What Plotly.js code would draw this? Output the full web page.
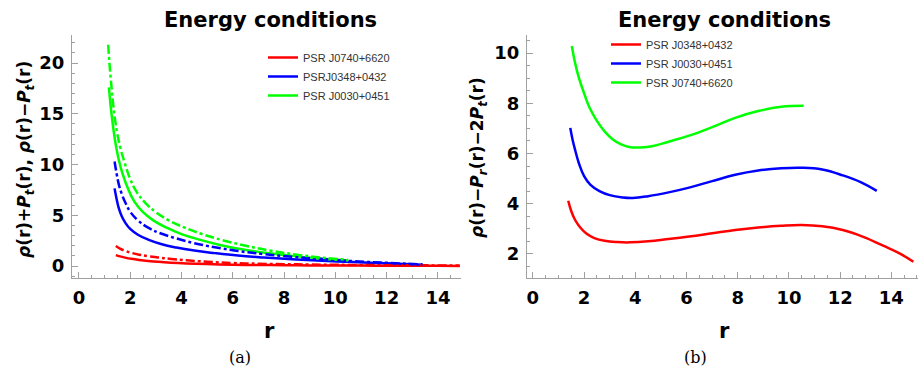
<!DOCTYPE html>
<html>
<head>
<meta charset="utf-8">
<script src="https://cdn.plot.ly/plotly-3.0.1.min.js"></script>
<style>html,body{margin:0;padding:0;background:#fff;}#chart{width:922px;height:371px;}</style>
</head>
<body>
<div id="chart"></div>
<script>
// ---------- Panel (a): rho+Pt (solid) and rho-Pt (dash-dot) ----------
const redSolidR = [1.44, 1.6, 1.8, 2.05, 2.35, 2.7, 3.1, 3.6, 4.2, 5.0, 6.0, 7.0, 8.0, 9.0, 10.0, 11.0, 12.0, 13.0, 14.0, 14.85];
const redSolidV = [1.08, 0.95, 0.83, 0.71, 0.6, 0.5, 0.41, 0.33, 0.26, 0.19, 0.13, 0.1, 0.08, 0.06, 0.05, 0.04, 0.03, 0.02, 0.015, 0.01];
const redDashR  = [1.44, 1.6, 1.8, 2.05, 2.35, 2.7, 3.1, 3.6, 4.2, 5.0, 6.0, 7.0, 8.0, 9.0, 10.0, 11.0, 12.0, 13.0, 14.0, 14.85];
const redDashV  = [1.97, 1.72, 1.5, 1.3, 1.12, 0.97, 0.84, 0.7, 0.56, 0.42, 0.3, 0.23, 0.18, 0.15, 0.12, 0.1, 0.08, 0.07, 0.06, 0.05];

const blueSolidR = [1.39, 1.47, 1.56, 1.67, 1.8, 2.0, 2.3, 2.7, 3.2, 3.8, 4.5, 5.3, 6.2, 7.2, 8.3, 9.5, 10.7, 12.0, 13.4];
const blueSolidV = [7.65, 6.6, 5.65, 4.9, 4.3, 3.65, 3.08, 2.6, 2.17, 1.82, 1.52, 1.27, 1.03, 0.84, 0.67, 0.52, 0.39, 0.27, 0.13];
const blueDashR  = [1.39, 1.47, 1.56, 1.67, 1.8, 2.0, 2.3, 2.7, 3.2, 3.8, 4.5, 5.3, 6.2, 7.2, 8.3, 9.5, 10.7, 12.0, 13.4];
const blueDashV  = [10.3, 9.1, 8.0, 7.1, 6.3, 5.35, 4.5, 3.78, 3.2, 2.72, 2.25, 1.85, 1.48, 1.18, 0.92, 0.68, 0.48, 0.32, 0.16];

const greenSolidR = [1.17, 1.22, 1.28, 1.35, 1.44, 1.55, 1.7, 1.9, 2.15, 2.5, 2.9, 3.4, 4.0, 4.7, 5.5, 6.4, 7.4, 8.5, 9.5, 10.5];
const greenSolidV = [17.6, 16.2, 14.8, 13.4, 11.9, 10.5, 9.1, 7.7, 6.4, 5.3, 4.5, 3.8, 3.15, 2.6, 2.08, 1.62, 1.25, 0.95, 0.72, 0.55];
const greenDashR  = [1.14, 1.19, 1.25, 1.32, 1.4, 1.5, 1.62, 1.78, 1.98, 2.25, 2.6, 3.0, 3.5, 4.1, 4.8, 5.6, 6.5, 7.5, 8.5, 9.5, 10.5];
const greenDashV  = [21.8, 20.0, 18.2, 16.3, 14.6, 13.0, 11.6, 10.2, 8.7, 7.3, 6.2, 5.3, 4.5, 3.8, 3.15, 2.55, 2.0, 1.5, 1.12, 0.82, 0.6];

const legendA = ["PSR J0740+6620", "PSRJ0348+0432", "PSR J0030+0451"];

// ---------- Panel (b): rho - Pr - 2Pt ----------
const redBR = [1.38, 1.5, 1.65, 1.85, 2.1, 2.4, 2.8, 3.3, 3.8, 4.5, 5.3, 6.1, 7.0, 7.9, 8.8, 9.7, 10.5, 11.3, 12.1, 12.9, 13.7, 14.3, 14.86];
const redBV = [4.12, 3.7, 3.35, 3.05, 2.8, 2.63, 2.52, 2.47, 2.46, 2.5, 2.59, 2.69, 2.82, 2.95, 3.05, 3.12, 3.15, 3.1, 2.95, 2.68, 2.32, 2.03, 1.69];
const blueBR = [1.46, 1.55, 1.65, 1.8, 2.0, 2.25, 2.6, 3.0, 3.5, 3.9, 4.5, 5.3, 6.1, 7.0, 7.9, 8.8, 9.7, 10.5, 11.3, 12.1, 12.8, 13.43];
const blueBV = [7.02, 6.55, 6.14, 5.6, 5.1, 4.75, 4.5, 4.34, 4.25, 4.23, 4.3, 4.45, 4.64, 4.9, 5.15, 5.32, 5.41, 5.43, 5.36, 5.13, 4.86, 4.51];
const greenBR = [1.52, 1.65, 1.8, 2.0, 2.2, 2.5, 2.8, 3.1, 3.45, 3.8, 4.2, 4.7, 5.3, 6.1, 7.0, 7.9, 8.8, 9.7, 10.57];
const greenBV = [10.28, 9.6, 9.0, 8.4, 7.85, 7.3, 6.88, 6.58, 6.36, 6.25, 6.24, 6.3, 6.47, 6.71, 7.05, 7.42, 7.69, 7.86, 7.9];

const legendB = ["PSR J0348+0432", "PSR J0030+0451", "PSR J0740+6620"];

const RED = "#ff0000", BLUE = "#0000ff", GREEN = "#00ff00";
const LW = 2.5;

function tr(x, y, color, dash, name, xa, ya, leg, show) {
  return {
    x: x, y: y, type: "scatter", mode: "lines",
    line: {color: color, width: LW, dash: dash, shape: "spline", smoothing: 1.2},
    name: name || "", showlegend: !!show, legend: leg,
    xaxis: xa, yaxis: ya, hoverinfo: "skip"
  };
}

const data = [
  tr(redSolidR, redSolidV, RED, "solid", legendA[0], "x", "y", "legend", true),
  tr(blueSolidR, blueSolidV, BLUE, "solid", legendA[1], "x", "y", "legend", true),
  tr(greenSolidR, greenSolidV, GREEN, "solid", legendA[2], "x", "y", "legend", true),
  tr(redDashR, redDashV, RED, "dashdot", "", "x", "y", "legend", false),
  tr(blueDashR, blueDashV, BLUE, "dashdot", "", "x", "y", "legend", false),
  tr(greenDashR, greenDashV, GREEN, "dashdot", "", "x", "y", "legend", false),
  tr(redBR, redBV, RED, "solid", legendB[0], "x2", "y2", "legend2", true),
  tr(blueBR, blueBV, BLUE, "solid", legendB[1], "x2", "y2", "legend2", true),
  tr(greenBR, greenBV, GREEN, "solid", legendB[2], "x2", "y2", "legend2", true)
];

const W = 922, H = 371;
const tickFont = {family: "DejaVu Sans", size: 18, color: "#000", weight: "bold"};
const axCommon = {
  showgrid: false, zeroline: false, showline: true, linecolor: "#a0a0a0", linewidth: 1,
  ticks: "inside", ticklen: 6, tickwidth: 1, tickcolor: "#a0a0a0",
  tickfont: tickFont, mirror: false
};
function ax(extra) { return Object.assign({}, axCommon, extra); }

const yDom = [(H - 278) / H, (H - 35) / H];

const layout = {
  width: W, height: H,
  margin: {l: 0, r: 0, t: 0, b: 0},
  paper_bgcolor: "#fff", plot_bgcolor: "#fff",
  showlegend: true,
  xaxis: ax({domain: [72 / W, 461 / W], range: [-0.27, 14.9], tickvals: [0,2,4,6,8,10,12,14],
    minor: {dtick: 0.5, tick0: 0, ticks: "inside", ticklen: 3, tickcolor: "#a0a0a0"}, anchor: "y", ticklabelstandoff: 3}),
  yaxis: ax({domain: yDom, range: [-1.18, 22.76], tickvals: [0,5,10,15,20],
    minor: {dtick: 1, tick0: 0, ticks: "inside", ticklen: 3, tickcolor: "#a0a0a0"}, anchor: "x", ticklabelstandoff: 3}),
  xaxis2: ax({domain: [527 / W, 918 / W], range: [-0.23, 15.04], tickvals: [0,2,4,6,8,10,12,14],
    minor: {dtick: 0.5, tick0: 0, ticks: "inside", ticklen: 3, tickcolor: "#a0a0a0"}, anchor: "y2", ticklabelstandoff: 3}),
  yaxis2: ax({domain: yDom, range: [1.04, 10.72], tickvals: [2,4,6,8,10],
    minor: {dtick: 0.5, tick0: 0, ticks: "inside", ticklen: 3, tickcolor: "#a0a0a0"}, anchor: "x2", ticklabelstandoff: 3}),
  legend: {x: 263 / W, y: (H - 43) / H, xanchor: "left", yanchor: "top", bgcolor: "rgba(0,0,0,0)",
    font: {family: "Liberation Sans", size: 11, color: "#333"}, itemwidth: 30, tracegroupgap: 0},
  legend2: {x: 606 / W, y: (H - 30) / H, xanchor: "left", yanchor: "top", bgcolor: "rgba(0,0,0,0)",
    font: {family: "Liberation Sans", size: 11, color: "#333"}, itemwidth: 30, tracegroupgap: 0},
  annotations: [
    {text: "Energy conditions", x: 270 / W, y: (H - 20) / H, xref: "paper", yref: "paper", showarrow: false,
      xanchor: "center", yanchor: "middle", font: {family: "DejaVu Sans", size: 21, color: "#000", weight: "bold"}},
    {text: "Energy conditions", x: 724 / W, y: (H - 20) / H, xref: "paper", yref: "paper", showarrow: false,
      xanchor: "center", yanchor: "middle", font: {family: "DejaVu Sans", size: 21, color: "#000", weight: "bold"}},
    {text: "<i>ρ</i>(r)+<i>P</i><sub><i>t</i></sub>(r), <i>ρ</i>(r)−<i>P</i><sub><i>t</i></sub>(r)",
      x: 25 / W, y: (H - 160) / H, xref: "paper", yref: "paper", showarrow: false, textangle: -90,
      xanchor: "center", yanchor: "middle", font: {family: "DejaVu Sans", size: 17, color: "#000", weight: "bold"}},
    {text: "<i>ρ</i>(r)−<i>P</i><sub><i>r</i></sub>(r)−2<i>P</i><sub><i>t</i></sub>(r)",
      x: 478 / W, y: (H - 158) / H, xref: "paper", yref: "paper", showarrow: false, textangle: -90,
      xanchor: "center", yanchor: "middle", font: {family: "DejaVu Sans", size: 17, color: "#000", weight: "bold"}},
    {text: "r", x: 269 / W, y: (H - 331) / H, xref: "paper", yref: "paper", showarrow: false,
      xanchor: "center", yanchor: "middle", font: {family: "DejaVu Sans", size: 21, color: "#000", weight: "bold"}},
    {text: "r", x: 724 / W, y: (H - 331) / H, xref: "paper", yref: "paper", showarrow: false,
      xanchor: "center", yanchor: "middle", font: {family: "DejaVu Sans", size: 21, color: "#000", weight: "bold"}},
    {text: "(a)", x: 240 / W, y: (H - 357) / H, xref: "paper", yref: "paper", showarrow: false,
      xanchor: "center", yanchor: "middle", font: {family: "DejaVu Serif", size: 16, color: "#000"}},
    {text: "(b)", x: 695 / W, y: (H - 357) / H, xref: "paper", yref: "paper", showarrow: false,
      xanchor: "center", yanchor: "middle", font: {family: "DejaVu Serif", size: 16, color: "#000"}}
  ]
};

Plotly.newPlot("chart", data, layout, {staticPlot: true, displayModeBar: false});
</script>
</body>
</html>
